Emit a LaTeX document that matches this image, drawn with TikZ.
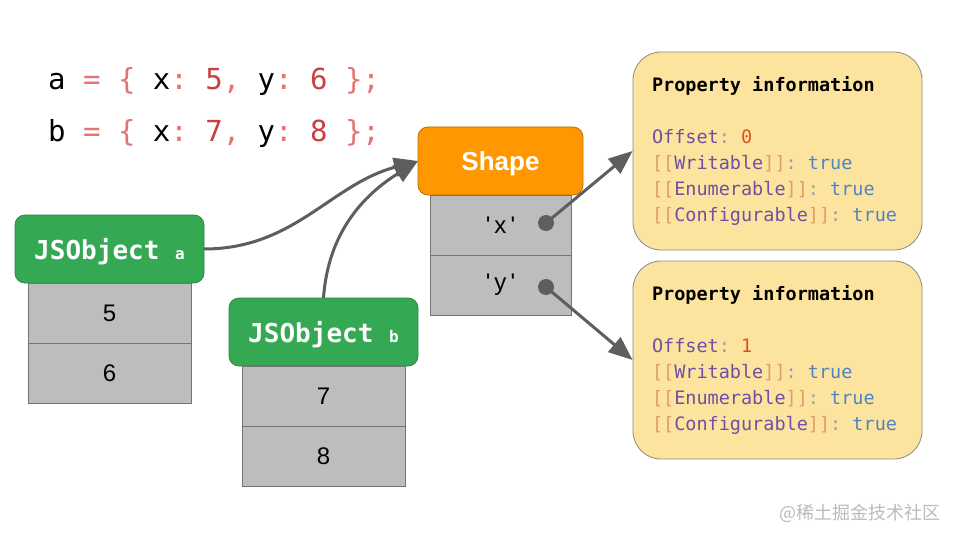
\documentclass[tikz,border=0pt]{standalone}
\usepackage{fontspec}
\setmainfont{Liberation Sans}
\setsansfont{Liberation Sans}
\setmonofont{DejaVu Sans Mono}
\newfontfamily\cjkfont{Noto Sans CJK SC}
\usetikzlibrary{arrows.meta,positioning}

\definecolor{codepunct}{HTML}{E57373}
\definecolor{codenum}{HTML}{C94040}
\definecolor{shapeorange}{HTML}{FF9800}
\definecolor{shapeborder}{HTML}{B86E00}
\definecolor{objgreen}{HTML}{34A853}
\definecolor{objborder}{HTML}{2B8A45}
\definecolor{cellgray}{HTML}{BDBDBD}
\definecolor{cellborder}{HTML}{747474}
\definecolor{arrowgray}{HTML}{5E5E5E}
\definecolor{propfill}{HTML}{FDE49E}
\definecolor{propborder}{HTML}{8A8A8A}
\definecolor{propkey}{HTML}{7050A0}
\definecolor{propbrk}{HTML}{E39A6A}
\definecolor{propcol}{HTML}{9A9AAA}
\definecolor{propval}{HTML}{4F84C4}
\definecolor{propnum}{HTML}{D9531E}
\definecolor{markgray}{HTML}{BBBBBB}

\newcommand{\cpun}[1]{\textcolor{codepunct}{#1}}
\newcommand{\cnum}[1]{\textcolor{codenum}{#1}}
\newcommand{\propline}[1]{\textcolor{propbrk}{[[}\textcolor{propkey}{#1}\textcolor{propbrk}{]]}\textcolor{propcol}{:}\phantom{x}\textcolor{propval}{true}}
\newcommand{\propbody}[1]{\textbf{Property\phantom{x}information}\\[26pt]
	\textcolor{propkey}{Offset}\textcolor{propcol}{:}\phantom{x}\textcolor{propnum}{#1}\\
	\propline{Writable}\\
	\propline{Enumerable}\\
	\propline{Configurable}}

\tikzset{
	code/.style={anchor=base west, inner sep=0pt, font=\ttfamily\fontsize{29}{34}\selectfont},
	header/.style={rectangle, rounded corners=10pt, outer sep=0pt, minimum height=68pt, line width=0.8pt, text depth=0pt},
	shapehdr/.style={header, fill=shapeorange, draw=shapeborder, minimum width=165pt, text=white, font=\sffamily\bfseries\fontsize{26}{30}\selectfont},
	objhdr/.style={header, fill=objgreen, draw=objborder, minimum width=189pt, text=white, font=\ttfamily\bfseries\fontsize{26}{30}\selectfont},
	cell/.style={rectangle, fill=cellgray, draw=cellborder, line width=0.8pt, outer sep=0pt, minimum height=60pt, font=\sffamily\fontsize{24}{28}\selectfont},
	dot/.style={circle, fill=arrowgray, inner sep=0pt, minimum size=16pt},
	propbox/.style={rectangle, rounded corners=28pt, fill=propfill, draw=propborder, line width=0.8pt, minimum height=198pt, text width=251pt, inner xsep=19pt, align=left, font=\ttfamily\fontsize{18.5}{26}\selectfont},
	connector/.style={draw=arrowgray, line width=3pt, -{Triangle[length=24pt,width=19pt]}}
}

\begin{document}
\begin{tikzpicture}[x=1pt, y=-1pt]
	\useasboundingbox[fill=white] (0,0) rectangle (960,540);

	\node[code] (linea) at (48,90) {a \cpun{=} \cpun{\{} x\cpun{:} \cnum{5}\cpun{,} y\cpun{:} \cnum{6} \cpun{\}}\cpun{;}};
	\node[code] (lineb) at (48,142) {b \cpun{=} \cpun{\{} x\cpun{:} \cnum{7}\cpun{,} y\cpun{:} \cnum{8} \cpun{\}}\cpun{;}};

	\node[shapehdr] (shape) at (500.5,161) {Shape};
	\node[cell, minimum width=141pt, below=0pt of shape] (shx) {\textquotesingle\,x\,\textquotesingle};
	\node[cell, minimum width=141pt, below=0pt of shx] (shy) {\textquotesingle\,y\,\textquotesingle};
	\node[dot] (xdot) at (546,223) {};
	\node[dot] (ydot) at (546,287) {};

	\node[objhdr] (joa) at (109.5,249) {JSObject {\fontsize{16}{16}\selectfont a}};
	\node[cell, minimum width=163pt, below=0pt of joa] (joa1) {5};
	\node[cell, minimum width=163pt, below=0pt of joa1] (joa2) {6};

	\node[objhdr] (job) at (323.5,332) {JSObject {\fontsize{16}{16}\selectfont b}};
	\node[cell, minimum width=163pt, below=0pt of job] (job1) {7};
	\node[cell, minimum width=163pt, below=0pt of job1] (job2) {8};

	\node[propbox] (propx) at (777.5,151) {\propbody{0}};
	\node[propbox] (propy) at (777.5,360) {\propbody{1}};

	\draw[connector] (joa.east) to[out=0, in=195] (shape.west);
	\draw[connector] (job.north) to[out=86, in=212] (shape.west);
	\draw[connector] (xdot.center) -- (propx.west);
	\draw[connector] (ydot.center) -- (propy.west);

	\node[anchor=base east, text=markgray, font=\cjkfont\fontsize{18}{20}\selectfont] (mark) at (944,519) {@稀土掘金技术社区};
\end{tikzpicture}
\end{document}
